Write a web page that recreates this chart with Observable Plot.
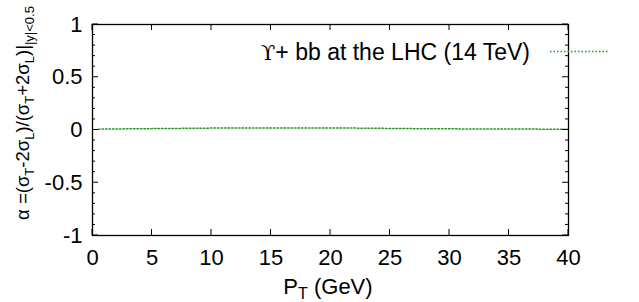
<!DOCTYPE html>
<html><head><meta charset="utf-8">
<script src="https://cdn.jsdelivr.net/npm/d3@7"></script>
<script src="https://cdn.jsdelivr.net/npm/@observablehq/plot@0.6"></script>
<style>body{margin:0;background:#fff;} svg{font-family:"Liberation Sans",Arial,sans-serif;}</style>
</head><body><div id="chart"></div>
<script>
const pt = [0.5, 2, 4, 6, 8, 10, 12, 14, 16, 18, 20, 22, 24, 26, 28, 30, 32, 34, 36, 38, 40];
const alpha = [0.008, 0.010, 0.012, 0.014, 0.016, 0.018, 0.019, 0.020, 0.020, 0.020, 0.019, 0.018, 0.016, 0.014, 0.012, 0.011, 0.010, 0.009, 0.009, 0.008, 0.008];
const xTicks = [0, 5, 10, 15, 20, 25, 30, 35, 40];
const yTicks = [-1, -0.5, 0, 0.5, 1];
const yMinor = d3.range(-10, 11).map(i => i / 10).filter(v => !yTicks.some(t => Math.abs(t - v) < 1e-9));
const legendSymbol = "ϒ";
const legendLabel = "+ bb at the LHC (14 TeV)";

const data = pt.map((x, i) => ({x, y: alpha[i]}));
const W = 639, H = 302;
const green = "#229922";
const plot = Plot.plot({
  width: W, height: H,
  marginLeft: 92, marginRight: 71, marginTop: 24, marginBottom: 67,
  style: {fontFamily: "Liberation Sans, Arial, sans-serif", fontSize: "22px", background: "#fff", color: "#000"},
  x: {domain: [0, 40]},
  y: {domain: [-1, 1]},
  marks: [
    Plot.axisX({ticks: xTicks, tickSize: 0, tickPadding: 14, label: null, fontSize: 22, tickFormat: d => String(d)}),
    Plot.axisY({ticks: yTicks, tickSize: 0, tickPadding: 10, label: null, fontSize: 22, tickFormat: d => String(d)}),
    Plot.line(data, {x: "x", y: "y", stroke: green, strokeWidth: 1.5, strokeDasharray: "1.5,2"}),
    Plot.frame({stroke: "#000", strokeWidth: 1.3})
  ]
});
document.getElementById("chart").appendChild(plot);

const svg = d3.select(plot);
const sx = plot.scale("x"), sy = plot.scale("y");
const x0 = sx.apply(0), x1 = sx.apply(40), y0 = sy.apply(-1), y1 = sy.apply(1);
const g = svg.append("g").attr("stroke", "#000").attr("stroke-width", 1);
for (const t of xTicks) {
  const px = sx.apply(t);
  g.append("line").attr("x1", px).attr("x2", px).attr("y1", y0).attr("y2", y0 - 6);
  g.append("line").attr("x1", px).attr("x2", px).attr("y1", y1).attr("y2", y1 + 6);
}
for (const t of yTicks) {
  const py = sy.apply(t);
  g.append("line").attr("y1", py).attr("y2", py).attr("x1", x0).attr("x2", x0 + 6);
  g.append("line").attr("y1", py).attr("y2", py).attr("x1", x1).attr("x2", x1 - 6);
}
for (const t of yMinor) {
  const py = sy.apply(t);
  g.append("line").attr("y1", py).attr("y2", py).attr("x1", x0).attr("x2", x0 + 3);
  g.append("line").attr("y1", py).attr("y2", py).attr("x1", x1).attr("x2", x1 - 3);
}

// legend
const ly = 51.5;
const lt = svg.append("text").attr("x", x1 - 38).attr("y", ly).attr("dy", "0.36em")
  .attr("text-anchor", "end").attr("font-size", 23).attr("fill", "#000");
lt.append("tspan").attr("font-family", "DejaVu Serif, DejaVu Sans, serif").attr("font-size", 21).text(legendSymbol);
lt.append("tspan").text(legendLabel);
svg.append("line").attr("x1", x1 - 18).attr("x2", x1 + 40).attr("y1", ly).attr("y2", ly)
  .attr("stroke", green).attr("stroke-width", 1.5).attr("stroke-dasharray", "1.5,2");

// x label
const xl = svg.append("text").attr("x", (x0 + x1) / 2 - 2).attr("y", H - 8)
  .attr("text-anchor", "middle").attr("font-size", 22).attr("fill", "#000");
xl.append("tspan").text("P");
xl.append("tspan").attr("font-size", 16).attr("dy", 5).text("T");
xl.append("tspan").attr("dy", -5).text(" (GeV)");

// y label
const yl = svg.append("text").attr("transform", `translate(29,113) rotate(-90)`)
  .attr("text-anchor", "middle").attr("font-size", 18.5).attr("fill", "#000");
const parts = [["α =(σ", 0], ["T", 1], ["-2σ", 0], ["L", 1], [")/(σ", 0], ["T", 1], ["+2σ", 0], ["L", 1], [")|", 0], ["|y|<0.5", 1]];
let cur = 0;
for (const [s, sub] of parts) {
  const target = sub ? 5 : 0;
  yl.append("tspan").attr("dy", target - cur).attr("font-size", sub ? 13 : 18.5).text(s);
  cur = target;
}
</script></body></html>
